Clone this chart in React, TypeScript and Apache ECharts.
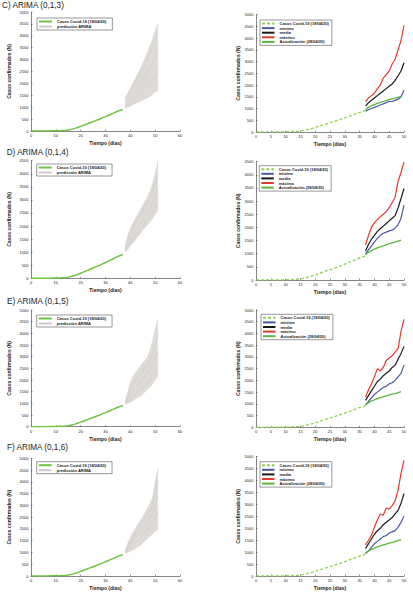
import React, { useEffect, useRef } from "react";
import * as echarts from "echarts";

// ---------------- data ----------------
const TITLES = ["C) ARIMA (0,1,3)", "D) ARIMA (0,1,4)", "E) ARIMA (0,1,5)", "F) ARIMA (0,1,6)"];

const OBS_NAME = "Casos Covid-19 (18/04/20)";
const PRED_NAME = "predicción ARIMA";
const MIN_NAME = "mínimo";
const MEAN_NAME = "media";
const MAX_NAME = "máximo";
const UPD_NAME = "Actualización (28/04/20)";

const OBS_DAYS = [0, 1, 2, 3, 4, 5, 6, 7, 8, 9, 10, 11, 12, 13, 14, 15, 16, 17, 18, 19, 20, 21, 22, 23, 24, 25, 26, 27, 28, 29, 30, 31, 32, 33, 34, 35, 36, 37];
const OBS_CASES = [0, 0, 1, 1, 2, 2, 3, 4, 6, 8, 11, 14, 18, 24, 32, 45, 65, 90, 120, 155, 195, 235, 275, 315, 355, 395, 435, 475, 515, 560, 605, 650, 695, 740, 790, 835, 870, 910];

const FAN_DAYS = [38, 39, 40, 41, 42, 43, 44, 45, 46, 47, 48, 49, 50, 51];
const FAN_LOW = [
  [950, 1000, 1050, 1100, 1150, 1200, 1250, 1300, 1350, 1400, 1450, 1550, 1650, 1700],
  [1000, 1100, 1250, 1350, 1450, 1600, 1700, 1850, 1950, 2050, 2150, 2300, 2450, 2600],
  [950, 1000, 1050, 1100, 1200, 1250, 1300, 1400, 1500, 1600, 1700, 1850, 2000, 2150],
  [950, 1000, 1050, 1100, 1150, 1250, 1300, 1400, 1500, 1600, 1700, 1800, 1900, 1950],
];
const FAN_HIGH = [
  [1400, 1600, 1800, 2000, 2200, 2400, 2600, 2850, 3100, 3350, 3600, 3900, 4200, 4500],
  [1250, 1650, 1900, 2100, 2300, 2450, 2600, 2800, 2950, 3150, 3350, 3650, 4000, 4500],
  [1100, 1500, 1900, 2150, 2300, 2450, 2600, 2750, 2850, 3000, 3300, 3700, 4200, 4550],
  [1100, 1400, 1650, 1850, 2000, 2200, 2350, 2500, 2700, 2900, 3100, 3350, 4000, 4550],
];
const FAN_TRAJ = [
  [
    [1100, 1250, 1400, 1550, 1700, 1850, 2000, 2150, 2300, 2450, 2650, 2850, 3050, 3300],
    [1000, 1100, 1200, 1300, 1400, 1500, 1600, 1700, 1800, 1900, 2000, 2150, 2300, 2450],
    [1250, 1450, 1650, 1850, 2050, 2250, 2450, 2650, 2850, 3050, 3300, 3550, 3800, 4100],
  ],
  [
    [1100, 1300, 1500, 1650, 1800, 1950, 2100, 2250, 2400, 2550, 2700, 2900, 3150, 3400],
    [1050, 1200, 1350, 1500, 1650, 1750, 1900, 2000, 2150, 2250, 2400, 2550, 2700, 2900],
    [1200, 1500, 1750, 1950, 2100, 2250, 2400, 2550, 2700, 2850, 3050, 3300, 3600, 4000],
  ],
  [
    [1000, 1200, 1400, 1550, 1700, 1800, 1950, 2050, 2200, 2300, 2450, 2650, 2900, 3200],
    [980, 1100, 1200, 1300, 1400, 1500, 1600, 1700, 1800, 1900, 2000, 2150, 2350, 2550],
    [1050, 1350, 1650, 1850, 2000, 2150, 2300, 2400, 2550, 2650, 2850, 3150, 3550, 3900],
  ],
  [
    [1000, 1200, 1350, 1500, 1650, 1800, 1900, 2050, 2200, 2350, 2500, 2700, 3050, 3400],
    [980, 1100, 1200, 1300, 1400, 1500, 1600, 1700, 1850, 1950, 2100, 2250, 2450, 2700],
    [1050, 1300, 1500, 1700, 1850, 2000, 2150, 2300, 2450, 2600, 2800, 3050, 3550, 4000],
  ],
];

const FC_DAYS = [37, 38, 39, 40, 41, 42, 43, 44, 45, 46, 47, 48, 49, 50];
const FC_MAX = [
  [1290, 1450, 1550, 1650, 1850, 2000, 2300, 2450, 2600, 2900, 3100, 3500, 3900, 4550],
  [1330, 1700, 2000, 2180, 2300, 2400, 2500, 2600, 2750, 2950, 3150, 3750, 4100, 4480],
  [1280, 1600, 1850, 2150, 2500, 2400, 2550, 2850, 2950, 3050, 3200, 3350, 4100, 4600],
  [1300, 1500, 1700, 2050, 2350, 2600, 2550, 2850, 2800, 2950, 3150, 3600, 4300, 4850],
];
const FC_MEAN = [
  [1100, 1250, 1350, 1450, 1550, 1650, 1750, 1850, 1950, 2050, 2200, 2400, 2600, 2950],
  [1100, 1350, 1550, 1700, 1850, 1950, 2050, 2150, 2250, 2350, 2450, 2750, 3100, 3480],
  [1150, 1350, 1550, 1750, 1950, 2050, 2200, 2300, 2400, 2550, 2650, 2900, 3150, 3450],
  [1150, 1350, 1550, 1750, 1900, 2000, 2150, 2250, 2350, 2450, 2600, 2750, 3050, 3450],
];
const FC_MIN = [
  [900, 950, 1000, 1050, 1100, 1150, 1200, 1250, 1300, 1300, 1350, 1400, 1500, 1780],
  [1000, 1150, 1300, 1450, 1580, 1700, 1780, 1820, 1870, 1900, 1970, 2100, 2350, 2850],
  [950, 1100, 1250, 1400, 1500, 1600, 1700, 1750, 1850, 1900, 2000, 2150, 2300, 2650],
  [950, 1050, 1200, 1350, 1450, 1550, 1650, 1700, 1800, 1850, 1900, 2050, 2250, 2500],
];

const UPD_DAYS = [37, 38, 39, 40, 41, 42, 43, 44, 45, 46, 47, 48, 49];
const UPD_CASES = [960, 1050, 1120, 1170, 1220, 1260, 1300, 1340, 1380, 1410, 1440, 1480, 1520];

const Y_MAX_LEFT = [5000, 4500, 5000, 5000];
const Y_MAX_RIGHT = [5000, 4500, 5000, 5000];

// ---------------- layout ----------------
const LEFT_GRIDS = [
  { top: 12, h: 119 },
  { top: 160.7, h: 117.6 },
  { top: 310, h: 116.7 },
  { top: 458.3, h: 117.7 },
];
const RIGHT_GRIDS = [
  { top: 14.7, h: 117.3 },
  { top: 161.7, h: 118.3 },
  { top: 310, h: 117.3 },
  { top: 456.7, h: 119.3 },
];
const LEFT_LEGENDS = [
  { x: 37, y: 18 },
  { x: 36.7, y: 164 },
  { x: 36.7, y: 315 },
  { x: 36.7, y: 461.7 },
];
const RIGHT_LEGENDS = [
  { x: 260, y: 20 },
  { x: 259.3, y: 165.7 },
  { x: 261, y: 314.3 },
  { x: 260, y: 461.7 },
];
const TITLE_POS = [
  { x: 2, y: 1.5 },
  { x: 6.7, y: 148 },
  { x: 7, y: 297.4 },
  { x: 7, y: 443 },
];

const FONT = "'Liberation Sans', Arial, sans-serif";
const AX_COLOR = "#333";

const zip = (xs: number[], ys: number[]) => xs.map((x, i) => [x, ys[i]]);

function axisCommon() {
  return {
    axisLine: { show: true, onZero: false, lineStyle: { color: AX_COLOR, width: 0.6 } },
    axisTick: { show: true, inside: true, length: 1.5, lineStyle: { color: AX_COLOR, width: 0.5 } },
    axisLabel: { fontSize: 4, color: "#222", margin: 2.5, fontFamily: FONT, formatter: (v: number) => String(v) },
    splitLine: { show: false },
    nameLocation: "middle",
    nameTextStyle: { fontSize: 5, fontWeight: "bold", color: "#222", fontFamily: FONT },
  };
}

function buildOption() {
  const grid: any[] = [];
  const xAxis: any[] = [];
  const yAxis: any[] = [];
  const legend: any[] = [];
  const series: any[] = [];
  const title: any[] = [];

  for (let i = 0; i < 4; i++) {
    const L = 2 * i;
    const R = 2 * i + 1;
    title.push({
      text: TITLES[i],
      left: TITLE_POS[i].x,
      top: TITLE_POS[i].y,
      padding: 0,
      textStyle: { fontSize: 8.2, fontWeight: "normal", color: "#222", fontFamily: FONT },
    });
    grid.push({ left: 31, width: 149, top: LEFT_GRIDS[i].top, height: LEFT_GRIDS[i].h });
    grid.push({ left: 256, width: 148, top: RIGHT_GRIDS[i].top, height: RIGHT_GRIDS[i].h });

    xAxis.push({ type: "value", gridIndex: L, min: 0, max: 60, interval: 10, name: "Tiempo (días)", nameGap: 9.5, ...axisCommon() });
    xAxis.push({ type: "value", gridIndex: R, min: 0, max: 50, interval: 5, name: "Tiempo (días)", nameGap: 9.5, ...axisCommon() });
    yAxis.push({ type: "value", gridIndex: L, min: 0, max: Y_MAX_LEFT[i], interval: 500, name: "Casos confirmados (N)", nameGap: 19.5, ...axisCommon() });
    yAxis.push({ type: "value", gridIndex: R, min: 0, max: Y_MAX_RIGHT[i], interval: 500, name: "Casos confirmados (N)", nameGap: 13.5, ...axisCommon() });

    const legBase = {
      orient: "vertical",
      itemWidth: 13,
      itemHeight: 5,
      borderColor: "#333",
      borderWidth: 0.5,
      backgroundColor: "#fff",
      selectedMode: false,
      itemStyle: { opacity: 0 },
      textStyle: { fontSize: 4, fontWeight: "bold", color: "#222", fontFamily: FONT },
      formatter: (n: string) => n.trim(),
      z: 10,
    };
    legend.push({
      ...legBase,
      left: LEFT_LEGENDS[i].x,
      top: LEFT_LEGENDS[i].y,
      itemGap: 1,
      padding: [1.5, 6, 1.5, 1],
      data: [OBS_NAME, PRED_NAME],
    });
    legend.push({
      ...legBase,
      left: RIGHT_LEGENDS[i].x,
      top: RIGHT_LEGENDS[i].y,
      itemWidth: 12.5,
      itemGap: 0.6,
      padding: [1.5, 3, 1.5, 1],
      data: [OBS_NAME + " ", MIN_NAME, MEAN_NAME, MAX_NAME, UPD_NAME],
    });

    // ---- left panel: fan of ARIMA predictions (band between min and max trajectories)
    const low = FAN_LOW[i];
    const high = FAN_HIGH[i];
    series.push({
      type: "custom",
      xAxisIndex: L,
      yAxisIndex: L,
      data: zip(FAN_DAYS, high),
      silent: true,
      z: 1,
      renderItem: (params: any, api: any) => {
        if (params.dataIndex !== 0) return null;
        const top = FAN_DAYS.map((d, k) => api.coord([d, high[k]]));
        const bottom = FAN_DAYS.map((d, k) => api.coord([d, low[k]])).reverse();
        return {
          type: "polygon",
          shape: { points: top.concat(bottom) },
          style: { fill: "#dedbd7", stroke: "#d2cec9", lineWidth: 0.4 },
        };
      },
    });
    FAN_TRAJ[i].forEach((traj, k) => {
      series.push({
        type: "line",
        name: k === 0 ? PRED_NAME : undefined,
        xAxisIndex: L,
        yAxisIndex: L,
        data: zip(FAN_DAYS, traj),
        symbol: "none",
        lineStyle: { color: "#cdc9c4", width: 0.5 },
        itemStyle: { color: "#d8d5d1" },
        silent: true,
        z: 2,
      });
    });
    series.push({
      type: "line",
      name: OBS_NAME,
      xAxisIndex: L,
      yAxisIndex: L,
      data: zip(OBS_DAYS, OBS_CASES),
      symbol: "none",
      lineStyle: { color: "#6cc43f", width: 1.5 },
      itemStyle: { color: "#6cc43f" },
      z: 5,
    });

    // ---- right panel
    series.push({
      type: "line",
      name: OBS_NAME + " ",
      xAxisIndex: R,
      yAxisIndex: R,
      data: zip(OBS_DAYS, OBS_CASES),
      symbol: "none",
      lineStyle: { color: "#8fd24e", width: 1.3, type: [3, 2] },
      itemStyle: { color: "#8fd24e" },
    });
    const fc = [
      { name: MIN_NAME, data: FC_MIN[i], color: "#4a56a6" },
      { name: MEAN_NAME, data: FC_MEAN[i], color: "#1a1a1a" },
      { name: MAX_NAME, data: FC_MAX[i], color: "#e53a2c" },
    ];
    fc.forEach((s) => {
      series.push({
        type: "line",
        name: s.name,
        xAxisIndex: R,
        yAxisIndex: R,
        data: zip(FC_DAYS, s.data),
        symbol: "none",
        lineStyle: { color: s.color, width: 1.2 },
        itemStyle: { color: s.color },
      });
    });
    series.push({
      type: "line",
      name: UPD_NAME,
      xAxisIndex: R,
      yAxisIndex: R,
      data: zip(UPD_DAYS, UPD_CASES),
      symbol: "none",
      lineStyle: { color: "#58b83a", width: 1.3 },
      itemStyle: { color: "#58b83a" },
    });
  }

  return {
    animation: false,
    backgroundColor: "#fff",
    textStyle: { fontFamily: FONT },
    title,
    grid,
    xAxis,
    yAxis,
    legend,
    series,
  };
}

export default function App() {
  const ref = useRef<HTMLDivElement>(null);
  useEffect(() => {
    if (!ref.current) return;
    const chart = echarts.init(ref.current, undefined, { renderer: "svg" });
    chart.setOption(buildOption() as any);
    return () => chart.dispose();
  }, []);
  return <div ref={ref} style={{ position: "absolute", left: 0, top: 0, width: 413, height: 595 }} />;
}
